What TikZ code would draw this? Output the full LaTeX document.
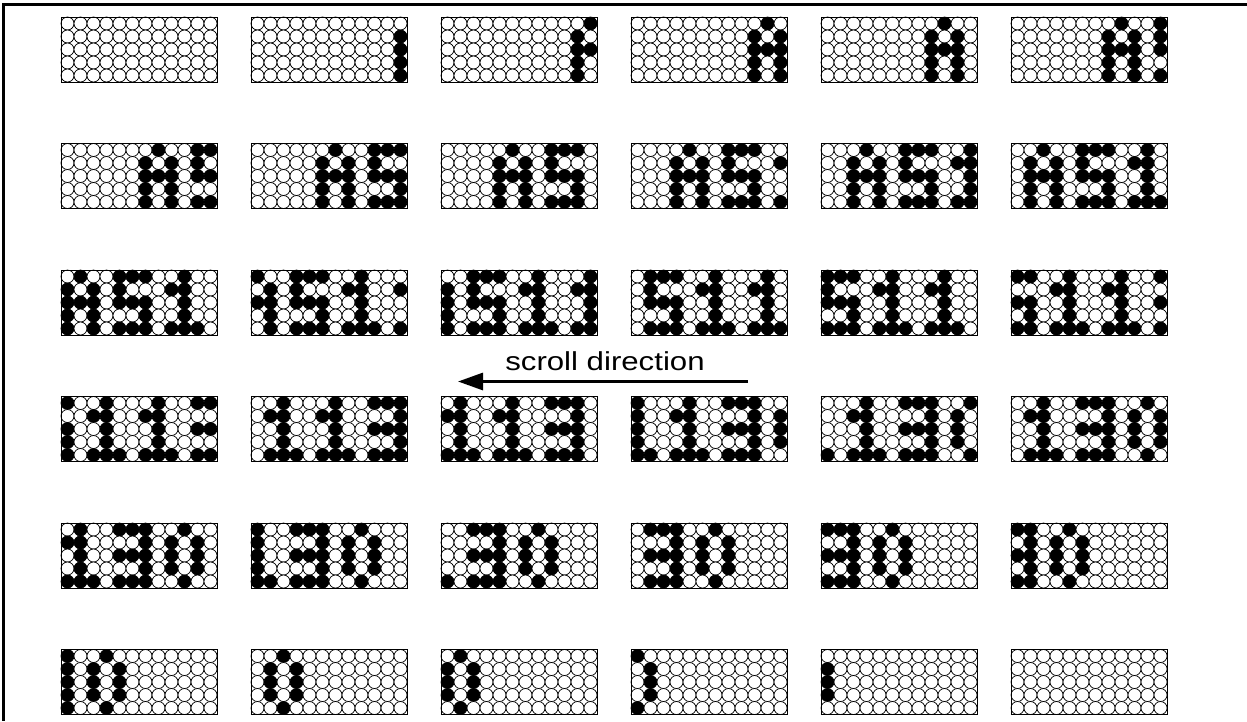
\documentclass[tikz,border=0pt]{standalone}
\usepackage{fontspec}
\setmainfont{Liberation Sans}
\usetikzlibrary{arrows.meta}
\tikzset{
  panel/.style={draw=black,line width=0.8pt,minimum width=156pt,minimum height=65pt,inner sep=0pt,outer sep=0pt,anchor=north west},
  dotoff/.style={draw=black,line width=0.7pt,fill=white},
  doton/.style={draw=black,line width=0.7pt,fill=black},
  frameline/.style={line width=3pt,black},
  scrollarrow/.style={line width=3pt,-{Triangle[length=25pt,width=17pt]}},
  lbl/.style={font=\fontsize{26}{30}\selectfont,inner sep=0pt,anchor=base}
}
\def\msg{{30,5,30,0,23,21,29,0,18,31,16,0,18,31,16,0,21,21,31,0,14,17,14}}
\begin{document}
\begin{tikzpicture}[x=1pt,y=-1pt]
\useasboundingbox (0,0) rectangle (1247,721);
\fill[white] (0,0) rectangle (1247,721);
\coordinate (tl) at (3.5,4.5);
\coordinate (tr) at (1247,4.5);
\coordinate (bl) at (3.5,721);
\draw[frameline] (tr) -- (tl) -- (bl);
\foreach \k in {1,...,36}{
  \pgfmathtruncatemacro\pr{floor((\k-1)/6)}
  \pgfmathtruncatemacro\pc{mod(\k-1,6)}
  \pgfmathsetmacro\px{61+190*\pc}
  \pgfmathsetmacro\py{17+126.5*\pr}
  \foreach \c in {1,...,12}{
    \pgfmathtruncatemacro\m{\c+\k-13}
    \ifnum\m<1 \def\v{0}\else\ifnum\m>23 \def\v{0}\else
      \pgfmathtruncatemacro\v{\msg[\m-1]}\fi\fi
    \foreach \r in {1,...,5}{
      \pgfmathtruncatemacro\b{mod(floor(\v/(2^(\r-1))),2)}
      \ifnum\b=1
        \draw[doton] (\px+13*\c-6.5,\py+13*\r-6.5) circle[radius=6.5];
      \else
        \draw[dotoff] (\px+13*\c-6.5,\py+13*\r-6.5) circle[radius=6.5];
      \fi
    }
  }
  \node[panel] (f\k) at (\px,\py) {};
}
\node[lbl] (label) at (605,370.7) {\scalebox{1.2}[1]{scroll direction}};
\coordinate (astart) at (748,381.5);
\coordinate (aend) at (458,381.5);
\draw[scrollarrow] (astart) -- (aend);
\end{tikzpicture}
\end{document}
